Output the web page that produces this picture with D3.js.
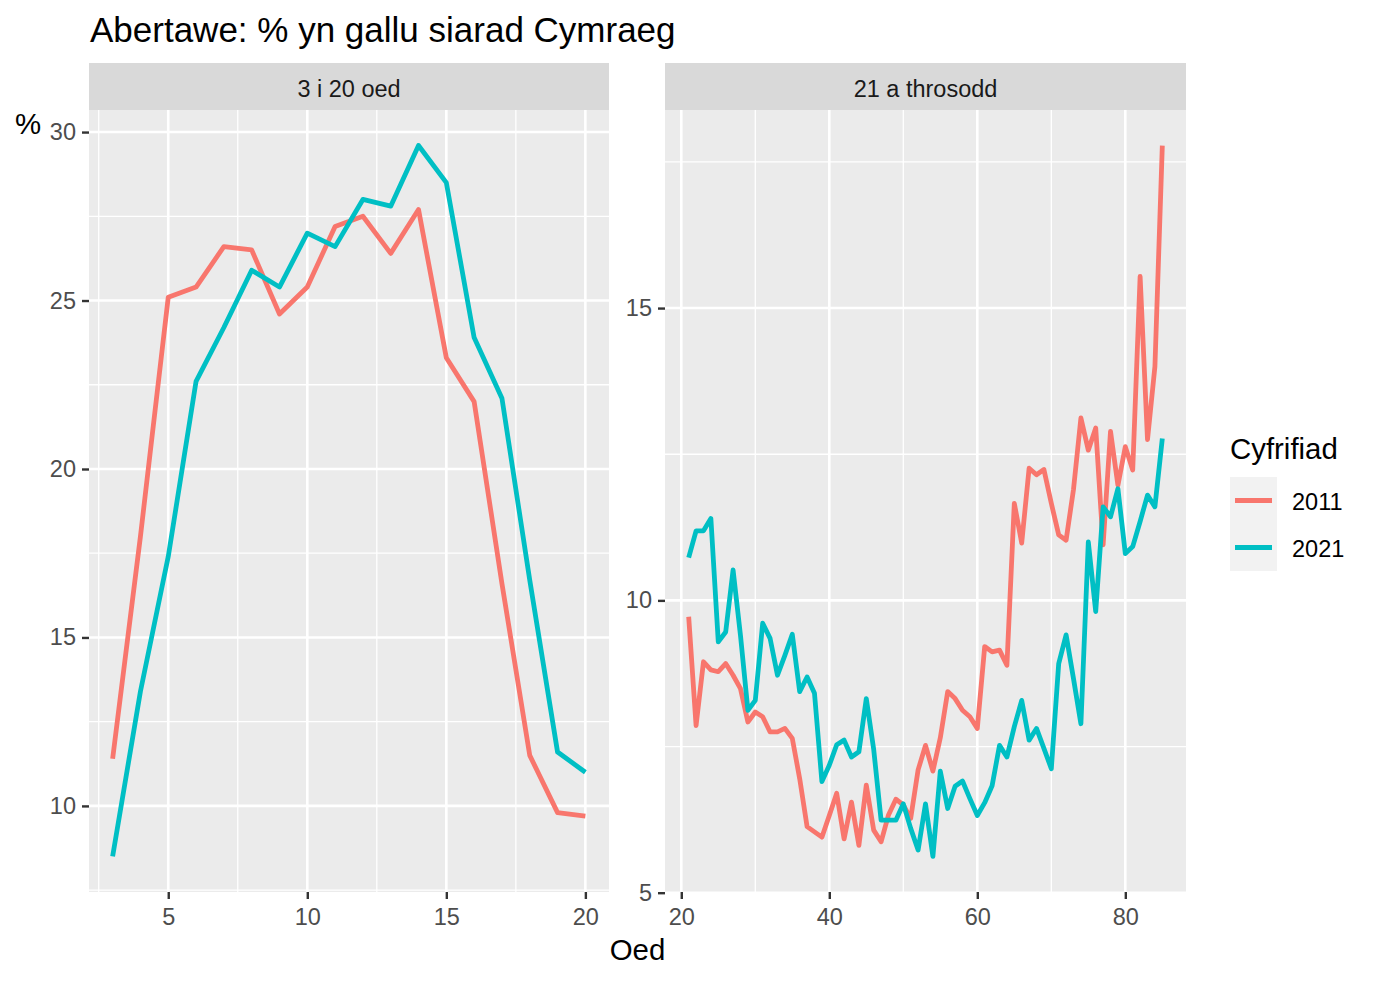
<!DOCTYPE html>
<html>
<head>
<meta charset="utf-8">
<script src="https://cdn.jsdelivr.net/npm/d3@7"></script>
<style>
body { margin: 0; background: #ffffff; }
text { font-family: "Liberation Sans", Arial, sans-serif; }
</style>
</head>
<body>
<script>
// data (% able to speak Welsh, Swansea)
var years = ["2011", "2021"];

var youngAges = [3, 4, 5, 6, 7, 8, 9, 10, 11, 12, 13, 14, 15, 16, 17, 18, 19, 20];
var young2011 = [11.4, 18.0, 25.1, 25.4, 26.6, 26.5, 24.6, 25.4, 27.2, 27.5, 26.4, 27.7,
    23.3, 22.0, 16.6, 11.5, 9.8, 9.7];
var young2021 = [8.5, 13.4, 17.4, 22.6, 24.2, 25.9, 25.4, 27.0, 26.6, 28.0, 27.8, 29.6,
    28.5, 23.9, 22.1, 16.7, 11.6, 11.0];

var adultAges = [21, 22, 23, 24, 25, 26, 27, 28, 29, 30, 31, 32, 33, 34, 35, 36, 37, 38, 39, 40,
    41, 42, 43, 44, 45, 46, 47, 48, 49, 50, 51, 52, 53, 54, 55, 56, 57, 58, 59, 60,
    61, 62, 63, 64, 65, 66, 67, 68, 69, 70, 71, 72, 73, 74, 75, 76, 77, 78, 79, 80,
    81, 82, 83, 84, 85];
var adult2011 = [9.72, 7.86, 8.95, 8.81, 8.78, 8.92, 8.72, 8.49, 7.92, 8.09,
    8.01, 7.75, 7.75, 7.81, 7.64, 6.95, 6.13, 6.04, 5.95, 6.32,
    6.70, 5.92, 6.55, 5.81, 6.84, 6.07, 5.87, 6.33, 6.60, 6.50,
    6.27, 7.10, 7.52, 7.08, 7.65, 8.44, 8.32, 8.12, 8.01, 7.81,
    9.21, 9.12, 9.15, 8.89, 11.66, 10.98, 12.26, 12.15, 12.24, 11.66,
    11.12, 11.03, 11.90, 13.12, 12.57, 12.95, 10.95, 12.89, 11.97, 12.63,
    12.23, 15.54, 12.75, 14.00, 17.78];
var adult2021 = [10.73, 11.19, 11.19, 11.40, 9.29, 9.46, 10.52, 9.40, 8.12, 8.29,
    9.61, 9.35, 8.72, 9.06, 9.42, 8.44, 8.69, 8.41, 6.90, 7.18,
    7.53, 7.61, 7.32, 7.41, 8.32, 7.45, 6.24, 6.24, 6.24, 6.52,
    6.10, 5.73, 6.52, 5.62, 7.08, 6.44, 6.82, 6.91, 6.61, 6.32,
    6.54, 6.83, 7.52, 7.32, 7.84, 8.29, 7.61, 7.81, 7.47, 7.12,
    8.92, 9.41, 8.66, 7.89, 11.00, 9.81, 11.60, 11.43, 11.91, 10.80,
    10.92, 11.35, 11.80, 11.60, 12.77];

var youngXTicks = [5, 10, 15, 20];
var youngYTicks = [10, 15, 20, 25, 30];
var adultXTicks = [20, 40, 60, 80];
var adultYTicks = [5, 10, 15];

var width = 1376,
    height = 982,
    panelTop = 110,
    panelBottom = 892,
    stripTop = 63;

var color = d3.scaleOrdinal()
    .domain(years)
    .range(["#F8766D", "#00BFC4"]);

var panels = [
    {label: "3 i 20 oed", ages: youngAges, series: [young2011, young2021],
        xTicks: youngXTicks, yTicks: youngYTicks, left: 89, right: 609},
    {label: "21 a throsodd", ages: adultAges, series: [adult2011, adult2021],
        xTicks: adultXTicks, yTicks: adultYTicks, left: 665, right: 1186}
];

// ggplot style 5% expansion of the data range
function padded(ext) {
    var d = (ext[1] - ext[0]) * 0.05;
    return [ext[0] - d, ext[1] + d];
}

function minorBreaks(major, domain) {
    var step = major[1] - major[0];
    var out = major.map(function(m) { return m - step / 2; });
    out.push(major[major.length - 1] + step / 2);
    return out.filter(function(v) { return v >= domain[0] && v <= domain[1]; });
}

var svg = d3.select("body")
    .append("svg")
    .attr("width", width)
    .attr("height", height);

svg.append("text")
    .attr("x", 90)
    .attr("y", 42)
    .attr("font-size", 35)
    .attr("fill", "#000")
    .text("Abertawe: % yn gallu siarad Cymraeg");

panels.forEach(function(p) {
    var all = p.series[0].concat(p.series[1]);
    var x = d3.scaleLinear()
        .domain(padded(d3.extent(p.ages)))
        .range([p.left, p.right]);
    var y = d3.scaleLinear()
        .domain(padded(d3.extent(all)))
        .range([panelBottom, panelTop]);

    var g = svg.append("g");

    // strip
    g.append("rect")
        .attr("x", p.left)
        .attr("y", stripTop)
        .attr("width", p.right - p.left)
        .attr("height", panelTop - stripTop)
        .attr("fill", "#D9D9D9");
    g.append("text")
        .attr("x", (p.left + p.right) / 2)
        .attr("y", 97)
        .attr("text-anchor", "middle")
        .attr("font-size", 23.5)
        .attr("fill", "#1A1A1A")
        .text(p.label);

    // panel background and grid
    g.append("rect")
        .attr("x", p.left)
        .attr("y", panelTop)
        .attr("width", p.right - p.left)
        .attr("height", panelBottom - panelTop)
        .attr("fill", "#EBEBEB");

    g.selectAll(".minor-x")
        .data(minorBreaks(p.xTicks, x.domain()))
        .enter().append("line")
        .attr("x1", function(d) { return x(d); })
        .attr("x2", function(d) { return x(d); })
        .attr("y1", panelTop)
        .attr("y2", panelBottom)
        .attr("stroke", "#fff")
        .attr("stroke-width", 1.3);
    g.selectAll(".minor-y")
        .data(minorBreaks(p.yTicks, y.domain()))
        .enter().append("line")
        .attr("x1", p.left)
        .attr("x2", p.right)
        .attr("y1", function(d) { return y(d); })
        .attr("y2", function(d) { return y(d); })
        .attr("stroke", "#fff")
        .attr("stroke-width", 1.3);
    g.selectAll(".major-x")
        .data(p.xTicks)
        .enter().append("line")
        .attr("x1", function(d) { return x(d); })
        .attr("x2", function(d) { return x(d); })
        .attr("y1", panelTop)
        .attr("y2", panelBottom)
        .attr("stroke", "#fff")
        .attr("stroke-width", 2.6);
    g.selectAll(".major-y")
        .data(p.yTicks)
        .enter().append("line")
        .attr("x1", p.left)
        .attr("x2", p.right)
        .attr("y1", function(d) { return y(d); })
        .attr("y2", function(d) { return y(d); })
        .attr("stroke", "#fff")
        .attr("stroke-width", 2.6);

    // lines
    var line = d3.line()
        .x(function(d) { return x(d[0]); })
        .y(function(d) { return y(d[1]); });

    p.series.forEach(function(values, i) {
        g.append("path")
            .datum(p.ages.map(function(a, j) { return [a, values[j]]; }))
            .attr("d", line)
            .attr("fill", "none")
            .attr("stroke", color(years[i]))
            .attr("stroke-width", 4.8)
            .attr("stroke-linejoin", "round");
    });

    // axes
    var xAxis = g.append("g")
        .attr("transform", "translate(0," + panelBottom + ")")
        .call(d3.axisBottom(x).tickValues(p.xTicks).tickSize(7).tickPadding(9));
    var yAxis = g.append("g")
        .attr("transform", "translate(" + p.left + ",0)")
        .call(d3.axisLeft(y).tickValues(p.yTicks).tickSize(7).tickPadding(6));

    [xAxis, yAxis].forEach(function(a) {
        a.select(".domain").remove();
        a.selectAll(".tick line").attr("stroke", "#333333").attr("stroke-width", 2.4);
        a.selectAll(".tick text")
            .attr("font-family", "Liberation Sans, Arial, sans-serif")
            .attr("font-size", 23.5)
            .attr("fill", "#4D4D4D");
    });
});

// axis titles
svg.append("text")
    .attr("x", (panels[0].left + panels[1].right) / 2)
    .attr("y", 960)
    .attr("text-anchor", "middle")
    .attr("font-size", 29.4)
    .attr("fill", "#000")
    .text("Oed");

svg.append("text")
    .attr("x", 15)
    .attr("y", 134)
    .attr("font-size", 29.4)
    .attr("fill", "#000")
    .text("%");

// legend
var legend = svg.append("g");

legend.append("text")
    .attr("x", 1230)
    .attr("y", 459)
    .attr("font-size", 29.4)
    .attr("fill", "#000")
    .text("Cyfrifiad");

var key = legend.selectAll(".key")
    .data(years)
    .enter().append("g")
    .attr("transform", function(d, i) { return "translate(1230," + (477 + i * 47) + ")"; });

key.append("rect")
    .attr("width", 47)
    .attr("height", 47)
    .attr("fill", "#F2F2F2");

key.append("line")
    .attr("x1", 5)
    .attr("x2", 42)
    .attr("y1", 23.5)
    .attr("y2", 23.5)
    .attr("stroke", function(d) { return color(d); })
    .attr("stroke-width", 4.8);

key.append("text")
    .attr("x", 62)
    .attr("y", 33)
    .attr("font-size", 23.5)
    .attr("fill", "#000")
    .text(function(d) { return d; });
</script>
</body>
</html>
